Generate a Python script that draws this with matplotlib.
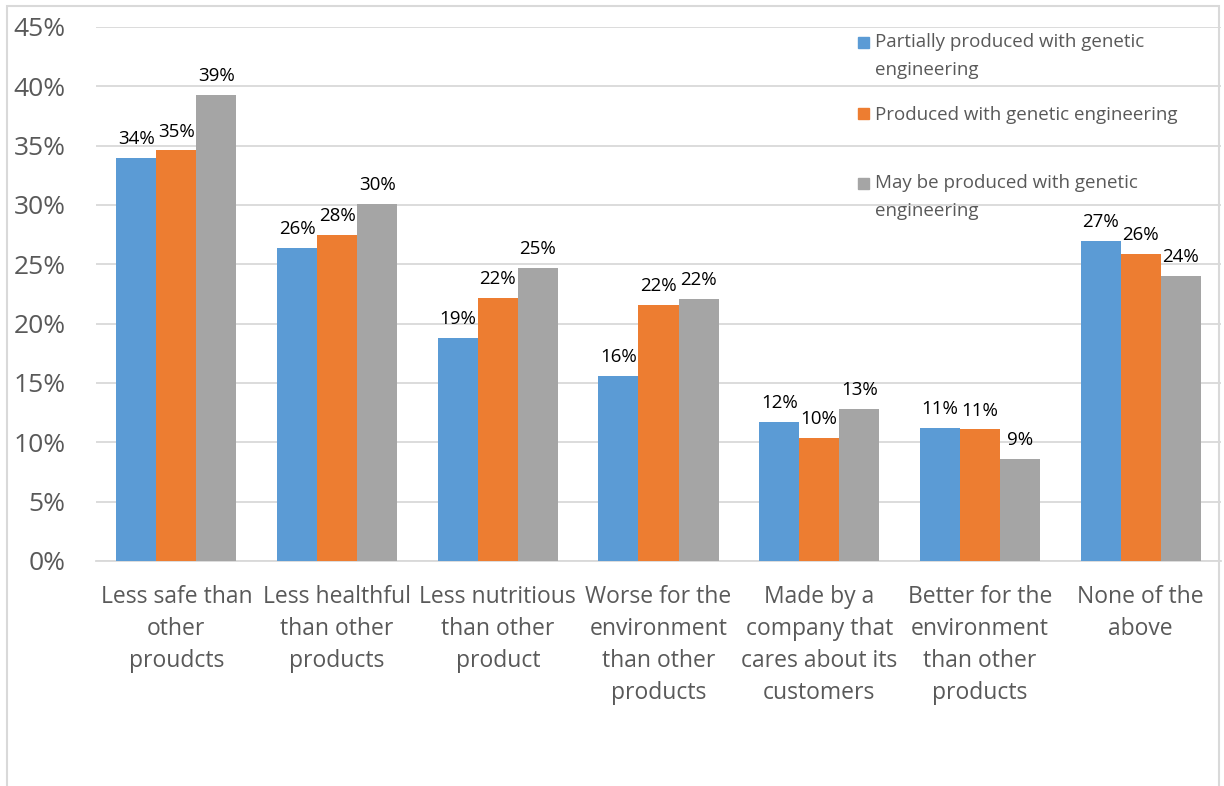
import numpy as np
import matplotlib.pyplot as plt
from matplotlib.patches import Rectangle

plt.rcParams['font.family'] = ['Open Sans', 'DejaVu Sans']

categories = ["Less safe than\nother\nproudcts",
              "Less healthful\nthan other\nproducts",
              "Less nutritious\nthan other\nproduct",
              "Worse for the\nenvironment\nthan other\nproducts",
              "Made by a\ncompany that\ncares about its\ncustomers",
              "Better for the\nenvironment\nthan other\nproducts",
              "None of the\nabove"]

partially = [34.0, 26.4, 18.8, 15.6, 11.7, 11.2, 27.0]
produced = [34.6, 27.5, 22.2, 21.6, 10.4, 11.1, 25.9]
may_be = [39.3, 30.1, 24.7, 22.1, 12.8, 8.6, 24.0]

series_names = ["Partially produced with genetic\nengineering",
                "Produced with genetic engineering",
                "May be produced with genetic\nengineering"]
colors = ["#5B9BD5", "#ED7D31", "#A5A5A5"]

fig = plt.figure(figsize=(12.24, 7.86), dpi=100)
ax = fig.add_axes([96 / 1224, 1 - 561 / 786, (1221 - 96) / 1224, (561 - 27) / 786])

x = np.arange(len(categories))
w = 0.249
for i, (vals, c) in enumerate(zip([partially, produced, may_be], colors)):
    pos = x + (i - 1) * w
    ax.bar(pos, vals, width=w, color=c, zorder=3)
    for px, v in zip(pos, vals):
        ax.annotate(f"{v:.0f}%", (px, v), xytext=(0, 7), textcoords="offset points",
                    ha="center", va="bottom", fontsize=13.5, color="#000000")

ax.set_xlim(-0.5, len(categories) - 0.5)
ax.set_ylim(0, 45)
ax.set_yticks(np.arange(0, 46, 5))
ax.set_yticklabels([f"{t}%" for t in range(0, 46, 5)])
ax.yaxis.grid(True, color="#D9D9D9", linewidth=1.3, zorder=0)
ax.tick_params(axis="y", length=0, pad=22, labelsize=19, labelcolor="#595959")
ax.set_xticks(x)
ax.set_xticklabels(categories)
ax.tick_params(axis="x", length=0, pad=17, labelsize=16.5, labelcolor="#595959")
for lab in ax.get_xticklabels():
    lab.set_linespacing(1.46)
    lab.set_verticalalignment("top")
for s in ["top", "right", "left"]:
    ax.spines[s].set_visible(False)
ax.spines["bottom"].set_color("#D9D9D9")
ax.spines["bottom"].set_linewidth(1.3)

# legend drawn by hand in figure pixels
leg_y = [42, 113, 183]
for name, c, ly in zip(series_names, colors, leg_y):
    fig.patches.append(Rectangle((858 / 1224, 1 - (ly + 6) / 786), 11 / 1224, 11 / 786,
                                 transform=fig.transFigure, color=c))
    if "\n" in name:
        fig.text(875 / 1224, 1 - (ly - 9) / 786, name, ha="left", va="top",
                 fontsize=13.5, color="#595959", linespacing=1.72)
    else:
        fig.text(875 / 1224, 1 - ly / 786, name, ha="left", va="center_baseline",
                 fontsize=13.5, color="#595959")

# chart frame
fig.patches.append(Rectangle((7 / 1224, -0.05), (1219 - 7) / 1224, 1.05 - 6 / 786,
                             transform=fig.transFigure, fill=False, edgecolor="#D9D9D9",
                             linewidth=1.5))

fig.savefig("out.png", dpi=100)
